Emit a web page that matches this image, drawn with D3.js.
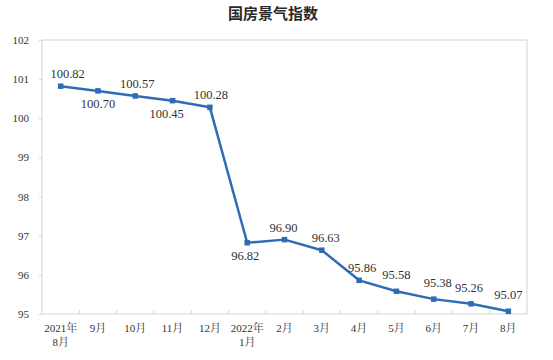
<!DOCTYPE html>
<html><head><meta charset="utf-8">
<script src="https://cdn.jsdelivr.net/npm/d3@7"></script>
<style>body{margin:0;background:#fff}</style>
</head><body>
<svg id="c" width="553" height="360"></svg>
<script>
const title = "国房景气指数";
const months = [["2021年","8月"],["9月"],["10月"],["11月"],["12月"],["2022年","1月"],["2月"],["3月"],["4月"],["5月"],["6月"],["7月"],["8月"]];
const values = [100.82,100.70,100.57,100.45,100.28,96.82,96.90,96.63,95.86,95.58,95.38,95.26,95.07];
const labelSide = ["a","b","a","b","a","b","a","a","a","a","a","a","a"];
const labelShiftX = [7,0,2,-6,1,-2,-1,4,3,0,4,-2,0];
const labelShiftY = [0,0,0,0,0,0,0,0,0,-4,-4,-4,-4];
const yTicks = [95,96,97,98,99,100,101,102];

const svg = d3.select("#c");
const m = {l:42, r:527, t:40, b:314};
const x = d3.scaleBand().domain(d3.range(values.length)).range([m.l, m.r]);
const y = d3.scaleLinear().domain([95,102]).range([m.b, m.t]);
const serif = "'Liberation Serif','Times New Roman','Noto Serif CJK SC','Noto Sans CJK SC',serif";

svg.append("text").attr("x",273).attr("y",19).attr("text-anchor","middle")
  .style("font-family","'Noto Sans CJK SC',sans-serif").style("font-weight","bold")
  .style("font-size","15px").attr("fill","#2a2a2a").text(title);

// frame
svg.append("rect").attr("x",m.l).attr("y",m.t).attr("width",m.r-m.l).attr("height",m.b-m.t)
  .attr("fill","none").attr("stroke","#d4d4d4").attr("stroke-width",1);

// y axis
const ya = svg.append("g").attr("transform",`translate(${m.l},0)`)
  .call(d3.axisLeft(y).tickValues(yTicks).tickSize(3).tickPadding(10).tickFormat(d3.format("d")));
ya.select(".domain").remove();
ya.selectAll("line").attr("stroke","#d4d4d4");
ya.selectAll("text").style("font-family",serif).style("font-size","11px").attr("fill","#333");

// x axis ticks at band boundaries
const bounds = d3.range(1, values.length).map(i => x(i));
svg.append("g").selectAll("line").data(bounds).join("line")
  .attr("x1",d=>d).attr("x2",d=>d).attr("y1",m.b).attr("y2",m.b-4)
  .attr("stroke","#d4d4d4");
const xl = svg.append("g").selectAll("text").data(months).join("text")
  .attr("text-anchor","middle")
  .attr("transform",(d,i)=>`translate(${x(i)+x.bandwidth()/2},${m.b+18})`)
  .style("font-family",serif).style("font-size","11px").attr("fill","#333");
xl.selectAll("tspan").data(d=>d).join("tspan").attr("x",0).attr("dy",(d,i)=>i===0?0:14).text(d=>d);

// line
const cx = i => x(i)+x.bandwidth()/2;
svg.append("path").datum(values)
  .attr("d", d3.line().x((d,i)=>cx(i)).y(d=>y(d)))
  .attr("fill","none").attr("stroke","#2f6cb5").attr("stroke-width",2.5).attr("stroke-linejoin","round");
svg.append("g").selectAll("rect").data(values).join("rect")
  .attr("x",(d,i)=>cx(i)-2.75).attr("y",d=>y(d)-2.75).attr("width",5.5).attr("height",5.5)
  .attr("fill","#2f6cb5");

// labels
svg.append("g").selectAll("text").data(values).join("text")
  .attr("text-anchor","middle")
  .attr("x",(d,i)=>cx(i)+labelShiftX[i])
  .attr("y",(d,i)=>y(d)+(labelSide[i]==="a"?-8:17)+labelShiftY[i])
  .style("font-family",serif).style("font-size","12.5px").attr("fill","#333")
  .text(d=>d.toFixed(2));
</script>
</body></html>
